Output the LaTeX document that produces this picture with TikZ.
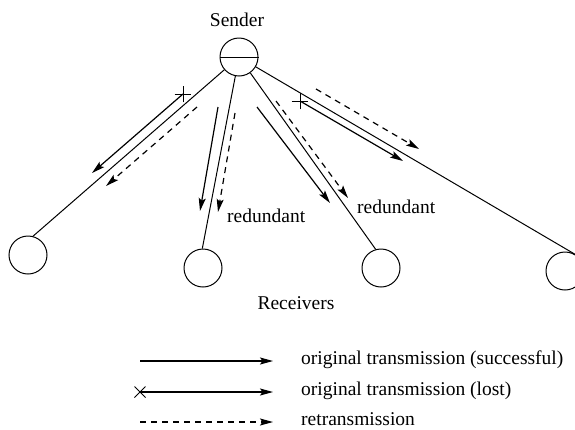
\documentclass[tikz,border=0pt]{standalone}
\usepackage{fontspec}
\setmainfont{Liberation Serif}
\usetikzlibrary{arrows.meta,shapes.misc}
\begin{document}
\begin{tikzpicture}[x=1pt,y=-1pt,
  every node/.style={font=\fontsize{19.5pt}{22pt}\selectfont},
  host/.style={draw,circle,minimum size=38pt,inner sep=0pt,line width=1pt},
  link/.style={line width=1pt},
  msg/.style={line width=1.2pt,-{Stealth[length=13pt,width=7pt,inset=2.5pt]}},
  resend/.style={msg,dash pattern=on 6pt off 5pt},
  lostmark/.style={draw,cross out,rotate=45,minimum size=11pt,inner sep=0pt,line width=1pt},
  xmark/.style={draw,cross out,minimum size=10pt,inner sep=0pt,line width=1pt},
  caption/.style={anchor=west,inner sep=0pt}]
\useasboundingbox (0,0) rectangle (575,429);

% sender and receivers
\node[host] (s) at (239,57) {};
\draw[line width=1pt] (s.west) -- (s.east);
\node[inner sep=0pt] (slabel) at (237,20) {Sender};

\node[host] (r1) at (28,255) {};
\node[host] (r2) at (203,268) {};
\node[host] (r3) at (381,268) {};
\node[host] (r4) at (565,271) {};
\node[inner sep=0pt] (rlabel) at (296,303) {Receivers};

% links from the sender to every receiver
\draw[link] (s) -- (r1.75);
\draw[link] (s) -- (r2.92);
\draw[link] (s) -- (r3.106);
\draw[link] (s) -- (r4.58);

% first receiver: lost original, then retransmission
\node[lostmark] (x1) at (183,94) {};
\coordinate (a1e) at (92,173);
\draw[msg] (x1.center) -- (a1e);
\coordinate (d1s) at (197,107);
\coordinate (d1e) at (106,186);
\draw[resend] (d1s) -- (d1e);

% second receiver: original arrives, retransmission is redundant
\coordinate (a2s) at (218,107);
\coordinate (a2e) at (200,211);
\draw[msg] (a2s) -- (a2e);
\coordinate (d2s) at (235,113);
\coordinate (d2e) at (218,212);
\draw[resend] (d2s) -- (d2e);
\node[caption] (red1) at (227,216) {redundant};

% third receiver: original arrives, retransmission is redundant
\coordinate (a3s) at (257,107);
\coordinate (a3e) at (330,203);
\draw[msg] (a3s) -- (a3e);
\coordinate (d3s) at (276,101);
\coordinate (d3e) at (348,198);
\draw[resend] (d3s) -- (d3e);
\node[caption] (red2) at (357,207) {redundant};

% fourth receiver: lost original, then retransmission
\node[lostmark] (x4) at (300,101) {};
\coordinate (a4e) at (403,161);
\draw[msg] (x4.center) -- (a4e);
\coordinate (d4s) at (316,89);
\coordinate (d4e) at (419,149);
\draw[resend] (d4s) -- (d4e);

% legend
\coordinate (l1s) at (140,361);
\coordinate (l1e) at (273,361);
\draw[msg] (l1s) -- (l1e);
\node[caption] (t1) at (301,360) {original transmission (successful)};

\node[xmark] (lx) at (140,392) {};
\coordinate (l2e) at (273,392);
\draw[msg] (lx.center) -- (l2e);
\node[caption] (t2) at (301,391) {original transmission (lost)};

\coordinate (l3s) at (140,422);
\coordinate (l3e) at (273,422);
\draw[resend] (l3s) -- (l3e);
\node[caption] (t3) at (301,419) {retransmission};
\end{tikzpicture}
\end{document}
